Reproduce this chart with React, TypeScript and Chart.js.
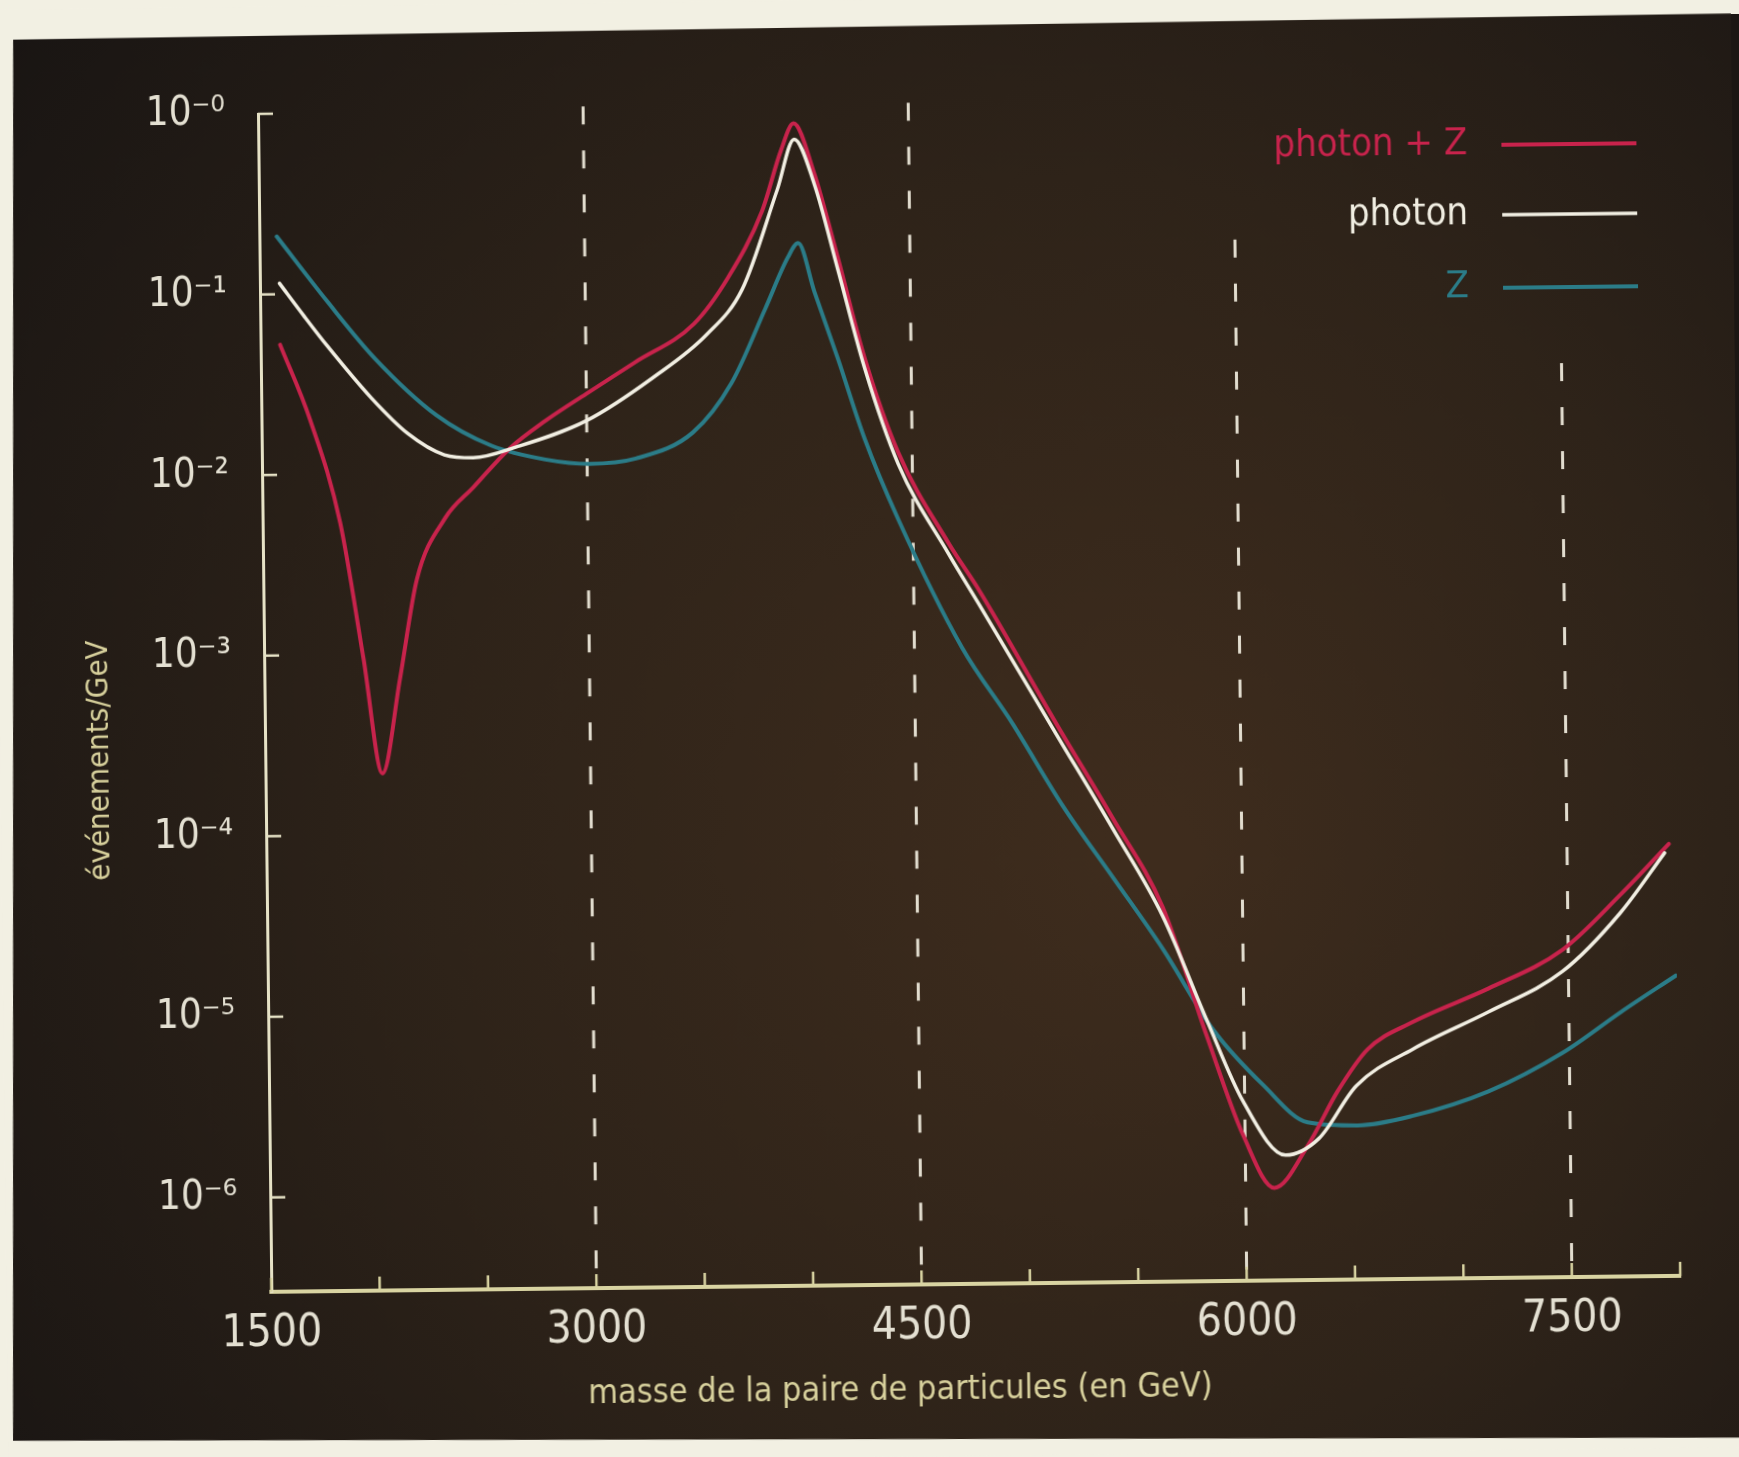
import { useEffect, useRef } from 'react';
import { Chart, registerables } from 'chart.js';

Chart.register(...registerables);

// ---------- data ----------
const xTickValues = [1500, 2000, 2500, 3000, 3500, 4000, 4500, 5000, 5500, 6000, 6500, 7000, 7500, 8000];
const xLabelledTicks = [1500, 3000, 4500, 6000, 7500];
const yTickValues = [1e-6, 1e-5, 1e-4, 1e-3, 1e-2, 1e-1, 1];
const yAxisMin = 3e-7;
const yAxisMax = 1;

const photonZMass = [1590, 1725, 1858, 1958, 2040, 2125, 2208, 2342, 2475, 2642, 2808, 3000, 3225, 3500, 3660, 3820, 3910, 3970, 4063, 4167, 4286, 4435, 4663, 4800, 5148, 5405, 5632, 5827, 5992, 6133, 6288, 6429, 6569, 6780, 7129, 7474, 7743, 7970];
const photonZEvents = [5.25e-2, 2.0e-2, 5.37e-3, 9.55e-4, 2.19e-4, 7.24e-4, 2.57e-3, 5.62e-3, 8.32e-3, 1.35e-2, 1.91e-2, 2.69e-2, 3.98e-2, 6.46e-2, 1.16e-1, 2.69e-1, 5.8e-1, 8.2e-1, 4.3e-1, 1.47e-1, 4.06e-2, 1.22e-2, 3.8e-3, 2.09e-3, 3.8e-4, 1.12e-4, 3.55e-5, 6.92e-6, 1.91e-6, 9.77e-7, 1.66e-6, 3.31e-6, 5.62e-6, 7.94e-6, 1.2e-5, 1.95e-5, 3.89e-5, 7.41e-5];

const photonMass = [1590, 1700, 1808, 2008, 2175, 2342, 2475, 2675, 3000, 3308, 3558, 3725, 3892, 3972, 4063, 4167, 4286, 4435, 4663, 4800, 5148, 5405, 5632, 5827, 5993, 6186, 6340, 6516, 6779, 7128, 7473, 7742, 7950];
const photonEvents = [1.15e-1, 7.6e-2, 5.13e-2, 2.63e-2, 1.66e-2, 1.26e-2, 1.21e-2, 1.38e-2, 1.91e-2, 3.27e-2, 5.62e-2, 1.0e-1, 3.55e-1, 6.7e-1, 3.75e-1, 1.26e-1, 3.55e-2, 1.05e-2, 3.31e-3, 1.74e-3, 3.31e-4, 9.77e-5, 3.16e-5, 8.51e-6, 2.95e-6, 1.48e-6, 1.82e-6, 3.55e-6, 5.62e-6, 8.91e-6, 1.48e-5, 3.09e-5, 6.61e-5];

const zMass = [1580, 1808, 2025, 2308, 2558, 2808, 3008, 3225, 3490, 3670, 3830, 3936, 3985, 4057, 4162, 4282, 4432, 4720, 4947, 5175, 5403, 5630, 5858, 6086, 6289, 6519, 6776, 7125, 7470, 7738, 7995];
const zEvents = [2.09e-1, 9.12e-2, 4.37e-2, 2.09e-2, 1.41e-2, 1.17e-2, 1.10e-2, 1.17e-2, 1.62e-2, 3.02e-2, 7.76e-2, 1.48e-1, 1.78e-1, 9.6e-2, 4.07e-2, 1.45e-2, 5.2e-3, 1.0e-3, 3.8e-4, 1.32e-4, 5.25e-5, 2.09e-5, 7.41e-6, 3.63e-6, 2.24e-6, 2.14e-6, 2.40e-6, 3.24e-6, 5.25e-6, 8.71e-6, 1.38e-5];

const dropLineMass = [3000, 4500, 6000, 7500];
const dropLineTop = [1.05, 1.05, 0.175, 0.0345];

const legendLabels = ['photon + Z', 'photon', 'Z'];

const xAxisTitle = 'masse de la paire de particules (en GeV)';
const yAxisTitle = 'événements/GeV';

// ---------- styles ----------
const FONT = "'Liberation Sans Narrow', 'DejaVu Sans Condensed', 'Roboto Condensed', 'Liberation Sans', sans-serif";
const RED = '#c8234c';
const WHITE = '#f1eee2';
const TEAL = '#2b7c88';
const DASH = '#e2ddcf';
const AXIS_Y = '#e6e2c6';
const AXIS_X = '#d9d4a2';
const TICK_TEXT = '#e4e0d2';
const TITLE_TEXT = '#d7d09c';
const PAPER = '#f2f0e3';
const DARK_EDGE = '#1b1613';

const SUP: Record<string, string> = {
  '0': '⁰', '1': '¹', '2': '²', '3': '³', '4': '⁴', '5': '⁵', '6': '⁶', '7': '⁷', '8': '⁸', '9': '⁹', '-': '⁻',
};
function powerLabel(v: number): string {
  const e = Math.round(Math.log10(v));
  const s = e === 0 ? '-0' : String(e);
  return '10' + s.split('').map((c) => SUP[c]).join('');
}

const toPoints = (xs: number[], ys: number[]) => xs.map((x, i) => ({ x, y: ys[i] }));

const backdropPlugin = {
  id: 'photoBackdrop',
  beforeDraw(chart: any) {
    const { ctx, width, height } = chart;
    ctx.save();
    ctx.fillStyle = PAPER;
    ctx.fillRect(0, 0, width, height);
    const g = ctx.createRadialGradient(1150, 850, 40, 1000, 800, 1250);
    g.addColorStop(0, '#3e2c1d');
    g.addColorStop(0.5, '#2e2319');
    g.addColorStop(1, '#191513');
    ctx.fillStyle = g;
    ctx.beginPath();
    ctx.moveTo(21, 30);
    ctx.lineTo(1780, 23);
    ctx.lineTo(1780, 1448);
    ctx.lineTo(5, 1431);
    ctx.closePath();
    ctx.fill();
    ctx.restore();
  },
};

const innerTicksPlugin = {
  id: 'innerTicks',
  afterDatasetsDraw(chart: any) {
    const { ctx, chartArea, scales } = chart;
    ctx.save();
    ctx.lineWidth = 2.5;
    ctx.strokeStyle = AXIS_X;
    for (const t of scales.x.ticks) {
      const px = scales.x.getPixelForValue(t.value);
      ctx.beginPath();
      ctx.moveTo(px, chartArea.bottom);
      ctx.lineTo(px, chartArea.bottom - 14);
      ctx.stroke();
    }
    ctx.strokeStyle = AXIS_Y;
    for (const t of scales.y.ticks) {
      const py = scales.y.getPixelForValue(t.value);
      ctx.beginPath();
      ctx.moveTo(chartArea.left, py);
      ctx.lineTo(chartArea.left + 15, py);
      ctx.stroke();
    }
    ctx.restore();
  },
};

const sideLegendPlugin = {
  id: 'sideLegend',
  afterDraw(chart: any) {
    const { ctx } = chart;
    const colors = [RED, WHITE, TEAL];
    const rowY = [151, 221, 294];
    ctx.save();
    ctx.font = `38px ${FONT}`;
    ctx.textAlign = 'right';
    ctx.textBaseline = 'middle';
    legendLabels.forEach((label, i) => {
      ctx.fillStyle = colors[i];
      ctx.fillText(label, 1474, rowY[i]);
      ctx.strokeStyle = colors[i];
      ctx.lineWidth = i === 1 ? 3.5 : 4;
      ctx.beginPath();
      ctx.moveTo(1508, rowY[i] + 1);
      ctx.lineTo(1643, rowY[i] + 1);
      ctx.stroke();
    });
    ctx.restore();
  },
};

export default function App() {
  const canvasRef = useRef<HTMLCanvasElement | null>(null);

  useEffect(() => {
    document.body.style.margin = '0';
    document.body.style.background = PAPER;
    const canvas = canvasRef.current;
    if (!canvas) return;

    const curve = (label: string, xs: number[], ys: number[], color: string, w: number) => ({
      label,
      data: toPoints(xs, ys),
      borderColor: color,
      backgroundColor: color,
      borderWidth: w,
      pointRadius: 0,
      fill: false,
      cubicInterpolationMode: 'monotone' as const,
      borderJoinStyle: 'round' as const,
      borderCapStyle: 'round' as const,
    });

    const drops = dropLineMass.map((m, i) => ({
      label: `repère ${m}`,
      data: [{ x: m, y: dropLineTop[i] }, { x: m, y: yAxisMin }],
      borderColor: DASH,
      borderWidth: 3,
      borderDash: [18, 26],
      pointRadius: 0,
      fill: false,
      clip: false as const,
    }));

    const chart = new Chart(canvas, {
      type: 'line',
      data: {
        datasets: [
          curve('photon', photonMass, photonEvents, WHITE, 3.5),
          curve('photon + Z', photonZMass, photonZEvents, RED, 4),
          curve('Z', zMass, zEvents, TEAL, 4),
          ...drops,
        ] as any,
      },
      options: {
        animation: false,
        responsive: false,
        maintainAspectRatio: false,
        devicePixelRatio: 1,
        layout: { padding: { left: 0, top: 107, right: 65, bottom: 0 } },
        plugins: {
          legend: { display: false },
          tooltip: { enabled: false },
        },
        scales: {
          x: {
            type: 'linear',
            min: 1500,
            max: 8000,
            afterBuildTicks: (s: any) => {
              s.ticks = xTickValues.map((v) => ({ value: v }));
            },
            afterFit: (s: any) => {
              s.height = 172;
            },
            border: { display: true, color: AXIS_X, width: 4 },
            grid: { display: false, drawTicks: false },
            ticks: {
              autoSkip: false,
              maxRotation: 0,
              minRotation: 0,
              padding: 16,
              color: TICK_TEXT,
              font: { family: FONT, size: 44 },
              callback: (v: any) => (xLabelledTicks.includes(Number(v)) ? String(v) : ''),
            },
            title: {
              display: true,
              text: xAxisTitle + '\u2003\u2003\u2003\u2003\u2003',
              color: TITLE_TEXT,
              font: { family: FONT, size: 34 },
              padding: { top: 0, bottom: 45 },
            },
          },
          y: {
            type: 'logarithmic',
            min: yAxisMin,
            max: yAxisMax,
            afterBuildTicks: (s: any) => {
              s.ticks = yTickValues.map((v) => ({ value: v }));
            },
            afterFit: (s: any) => {
              s.width = 265;
            },
            border: { display: true, color: AXIS_Y, width: 3 },
            grid: { display: false, drawTicks: false },
            ticks: {
              autoSkip: false,
              padding: 33,
              color: TICK_TEXT,
              font: { family: FONT, size: 40 },
              callback: (v: any) => powerLabel(Number(v)),
            },
            title: {
              display: true,
              text: yAxisTitle + '\u2003\u2003\u2003\u2003',
              color: TITLE_TEXT,
              font: { family: FONT, size: 31 },
              padding: { top: 81, bottom: 0 },
            },
          },
        },
      } as any,
      plugins: [backdropPlugin, innerTicksPlugin, sideLegendPlugin],
    });

    return () => chart.destroy();
  }, []);

  return (
    <div
      style={{
        position: 'relative',
        width: 1739,
        height: 1457,
        overflow: 'hidden',
        background: `linear-gradient(${PAPER} 0 14px, transparent 14px), linear-gradient(transparent 1440px, ${PAPER} 1440px), linear-gradient(to right, ${PAPER} 1720px, ${DARK_EDGE} 1720px)`,
      }}
    >
      <canvas
        ref={canvasRef}
        width={1739}
        height={1457}
        style={{ display: 'block', transform: 'rotate(-0.65deg)', transformOrigin: '50% 50%' }}
      />
    </div>
  );
}
